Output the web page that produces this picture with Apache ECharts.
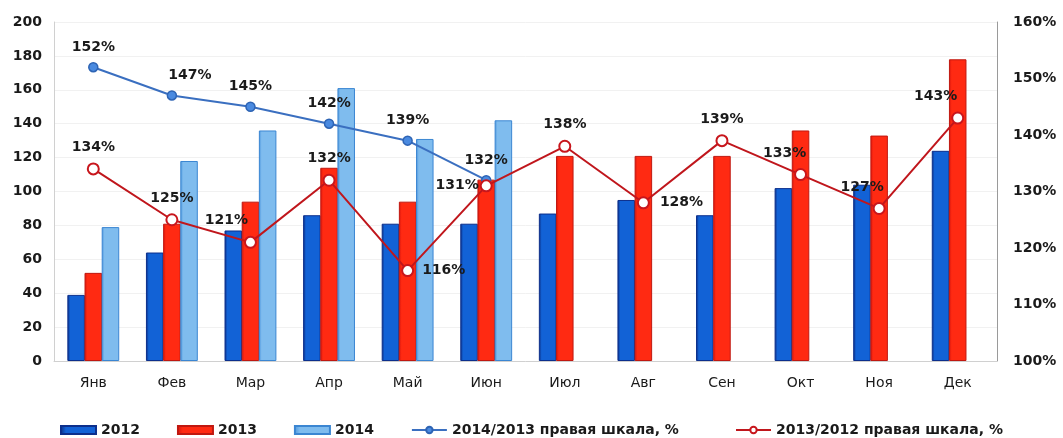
<!DOCTYPE html>
<html>
<head>
<meta charset="utf-8">
<script src="https://cdn.jsdelivr.net/npm/echarts@6/dist/echarts.min.js"></script>
<style>
  html, body { margin: 0; padding: 0; background: #fff; }
  #chart { width: 1063px; height: 438px; }
</style>
</head>
<body>
<div id="chart"></div>
<script>
// Monthly volumes by year (left scale) and year-over-year ratios in % (right scale)
const months = ['Янв', 'Фев', 'Мар', 'Апр', 'Май', 'Июн', 'Июл', 'Авг', 'Сен', 'Окт', 'Ноя', 'Дек'];
const values2012 = [39, 64, 77, 86, 81, 81, 87, 95, 86, 102, 104, 124];
const values2013 = [52, 81, 94, 114, 94, 107, 121, 121, 121, 136, 133, 178];
const values2014 = [79, 118, 136, 161, 131, 142, null, null, null, null, null, null];
const ratio2014to2013 = [152, 147, 145, 142, 139, 132, null, null, null, null, null, null];
const ratio2013to2012 = [134, 125, 121, 132, 116, 131, 138, 128, 139, 133, 127, 143];
const leftTicks = { min: 0, max: 200, step: 20 };
const rightTicks = { min: 100, max: 160, step: 10 };

const FONT = '"DejaVu Sans", Verdana, sans-serif';
const TEXT = '#1a1a1a';

function barGradient(edge, fill) {
  return new echarts.graphic.LinearGradient(0, 0, 1, 0, [
    { offset: 0, color: edge },
    { offset: 0.16, color: fill },
    { offset: 1, color: fill }
  ]);
}

// label placement per point for the ratio lines
const blueLabelOffsets = { 1: [18, 0] };
const redLabelPlacement = {
  2: { position: 'top', offset: [-24, 0] },
  4: { position: 'right', distance: 8 },
  5: { position: 'left', distance: 1 },
  7: { position: 'right', distance: 10 },
  9: { position: 'top', offset: [-16, 0] },
  10: { position: 'top', offset: [-17, 0] },
  11: { position: 'top', offset: [-22, 0] }
};

const labelStyle = { fontFamily: FONT, fontSize: 14, fontWeight: 'bold', color: TEXT };

const blueData = ratio2014to2013.map((v, i) => {
  const d = { value: v };
  if (blueLabelOffsets[i]) d.label = { offset: blueLabelOffsets[i] };
  return d;
});
const redData = ratio2013to2012.map((v, i) => {
  const d = { value: v };
  if (redLabelPlacement[i]) d.label = Object.assign({}, redLabelPlacement[i]);
  return d;
});

const chart = echarts.init(document.getElementById('chart'), null, { renderer: 'canvas' });

const barBase = {
  type: 'bar',
  yAxisIndex: 0,
  barGap: '-2%',
  barCategoryGap: '34%'
};

const legendText = { fontFamily: FONT, fontSize: 14, fontWeight: 'bold', color: TEXT };

chart.setOption({
  animation: false,
  backgroundColor: '#ffffff',
  textStyle: { fontFamily: FONT },
  grid: { left: 54, right: 66, top: 22, bottom: 77, containLabel: false },
  legend: [
    {
      left: 55,
      top: 418,
      itemWidth: 35,
      itemHeight: 8,
      itemGap: 37,
      textStyle: legendText,
      data: [
        { name: '2012', icon: 'rect' },
        { name: '2013', icon: 'rect' },
        { name: '2014', icon: 'rect' },
        { name: '2014/2013 правая шкала, %' }
      ]
    },
    {
      left: 730,
      top: 418,
      itemWidth: 35,
      itemHeight: 8,
      textStyle: legendText,
      data: [{ name: '2013/2012 правая шкала, %' }]
    }
  ],
  xAxis: {
    type: 'category',
    data: months,
    boundaryGap: true,
    axisLine: { show: true, lineStyle: { color: '#d0d0d0', width: 1 } },
    axisTick: { show: false },
    axisLabel: { fontFamily: FONT, fontSize: 14, color: TEXT, margin: 15 }
  },
  yAxis: [
    {
      type: 'value',
      min: leftTicks.min,
      max: leftTicks.max,
      interval: leftTicks.step,
      axisLine: { show: true, lineStyle: { color: '#d0d0d0' } },
      axisTick: { show: false },
      splitLine: { show: true, lineStyle: { color: '#f1f1f1' } },
      axisLabel: { fontFamily: FONT, fontSize: 14, fontWeight: 'bold', color: TEXT, margin: 12 }
    },
    {
      type: 'value',
      min: rightTicks.min,
      max: rightTicks.max,
      interval: rightTicks.step,
      position: 'right',
      axisLine: { show: true, lineStyle: { color: '#9a9a9a' } },
      axisTick: { show: false },
      splitLine: { show: false },
      axisLabel: { fontFamily: FONT, fontSize: 14, fontWeight: 'bold', color: TEXT, margin: 16, formatter: '{value}%' }
    }
  ],
  series: [
    Object.assign({}, barBase, {
      name: '2012',
      data: values2012,
      itemStyle: { color: barGradient('#0a2a7e', '#1262d6'), borderColor: '#0c2f8c', borderWidth: 1 }
    }),
    Object.assign({}, barBase, {
      name: '2013',
      data: values2013,
      itemStyle: { color: barGradient('#d8140c', '#ff2a12'), borderColor: '#c01810', borderWidth: 1 }
    }),
    Object.assign({}, barBase, {
      name: '2014',
      data: values2014,
      itemStyle: { color: barGradient('#4a94dc', '#7fbcee'), borderColor: '#3b86d2', borderWidth: 1 }
    }),
    {
      name: '2014/2013 правая шкала, %',
      type: 'line',
      yAxisIndex: 1,
      data: blueData,
      symbol: 'circle',
      symbolSize: 9,
      lineStyle: { color: '#3a6fc0', width: 2 },
      itemStyle: { color: '#4a8ae0', borderColor: '#2e64b4', borderWidth: 1.5 },
      label: Object.assign({ show: true, position: 'top', distance: 8, formatter: '{c}%' }, labelStyle),
      z: 5
    },
    {
      name: '2013/2012 правая шкала, %',
      type: 'line',
      yAxisIndex: 1,
      data: redData,
      symbol: 'circle',
      symbolSize: 11,
      lineStyle: { color: '#c0161c', width: 2 },
      itemStyle: { color: '#ffffff', borderColor: '#c8161c', borderWidth: 2 },
      label: Object.assign({ show: true, position: 'top', distance: 8, formatter: '{c}%' }, labelStyle),
      z: 6
    }
  ]
});
</script>
</body>
</html>
